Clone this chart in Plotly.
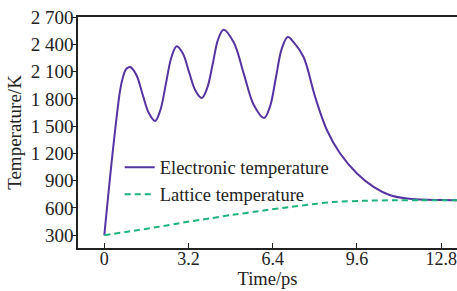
import plotly.graph_objects as go

# Electronic temperature
t_e = [0, 0.34, 0.6, 0.7, 0.79, 0.88, 0.98, 1.22, 1.45, 1.69, 1.93, 2.13, 2.34, 2.55,
       2.75, 2.99, 3.22, 3.46, 3.70, 3.91, 4.12, 4.32, 4.53, 4.92, 5.3, 5.68, 6.07,
       6.3, 6.52, 6.74, 6.97, 7.2, 7.57, 8.01, 8.46, 8.96, 9.6, 10.23, 10.86, 11.5,
       12.0, 12.8, 13.4]
T_e = [300, 1271, 1894, 2030, 2110, 2140, 2150, 2063, 1853, 1644, 1557, 1677, 1967, 2258,
       2378, 2295, 2094, 1893, 1810, 1920, 2185, 2451, 2561, 2419, 2075, 1732, 1590,
       1720, 2035, 2350, 2480, 2420, 2260, 1821, 1455, 1199, 979, 832, 740, 704,
       693, 688, 686]

# Lattice temperature
t_l = [0, 1, 2, 3, 4, 4.78, 6, 7.06, 8, 8.7, 10, 11, 12, 13.4]
T_l = [300, 345, 390, 440, 485, 521, 570, 612, 645, 667, 680, 685, 686, 686]

x_ticks = [0, 3.2, 6.4, 9.6, 12.8]
x_ticktext = ["0", "3.2", "6.4", "9.6", "12.8"]
y_ticks = [300, 600, 900, 1200, 1500, 1800, 2100, 2400, 2700]
y_ticktext = ["300", "600", "900", "1 200", "1 500", "1 800", "2 100", "2 400", "2 700"]

font_family = "Liberation Serif"

fig = go.Figure()
fig.add_trace(go.Scatter(
    x=t_e, y=T_e, mode="lines", name="Electronic temperature",
    line=dict(color="#5533a0", width=2, shape="spline", smoothing=1.0),
))
fig.add_trace(go.Scatter(
    x=t_l, y=T_l, mode="lines", name="Lattice temperature",
    line=dict(color="#1fb27b", width=2, dash="6px,4px", shape="spline", smoothing=0.6),
))

fig.update_layout(
    width=457, height=291,
    margin=dict(l=78, r=0, t=17, b=43),
    paper_bgcolor="white", plot_bgcolor="white",
    font=dict(family=font_family, size=19, color="#222222"),
    showlegend=True,
    legend=dict(x=0.11, y=0.43, xanchor="left", yanchor="top",
                bgcolor="rgba(0,0,0,0)", font=dict(size=18.5, family=font_family),
                tracegroupgap=0, itemwidth=30),
    xaxis=dict(
        range=[-1, 13.4], tickvals=x_ticks, ticktext=x_ticktext,
        showgrid=False, zeroline=False, showline=True, linecolor="#222222",
        linewidth=1.5, mirror=True, ticks="inside", ticklen=5, tickcolor="#222222",
        title=dict(text="Time/ps", standoff=4, font=dict(size=18.5)),
        tickfont=dict(size=18), automargin=False, ticklabeloverflow="allow",
        ticklabelstandoff=-6,
    ),
    yaxis=dict(
        range=[160, 2700], tickvals=y_ticks, ticktext=y_ticktext,
        showgrid=False, zeroline=False, showline=True, linecolor="#222222",
        linewidth=1.5, ticks="outside", ticklen=5, tickcolor="#222222",
        title=dict(text="Temperature/K", standoff=4, font=dict(size=19)),
        tickfont=dict(size=19), automargin=False, ticklabelstandoff=-6,
    ),
)

fig.write_html("out.html", config={"displayModeBar": False},
               post_script="document.body.style.margin='0';document.body.style.overflow='hidden';")
